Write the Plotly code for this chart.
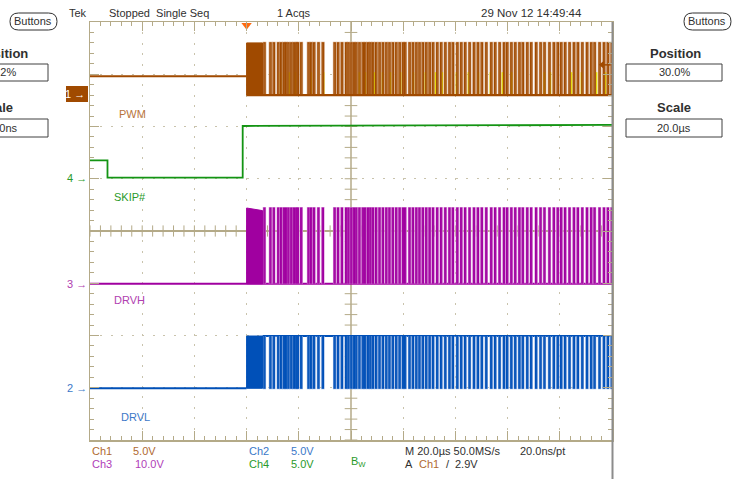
import plotly.graph_objects as go
import numpy as np

# ---------------- data ----------------
time_range = [-60.0, 140.0]          # µs, 20 µs/div, trigger at 30 %
div_range = [-4.0, 4.0]              # vertical divisions

# switching edges after the trigger (µs, rising edge of DRVH / PWM)
pulse_t = [6.6, 8.9, 10.2, 11.9, 13.0, 14.1, 14.9, 15.8, 16.9, 17.9, 18.8, 19.4,
           20.7, 23.5, 24.5, 25.6, 27.3, 29.0, 33.5, 34.8, 36.3, 37.9, 38.8, 39.9,
           40.9, 41.8, 43.0, 44.3, 45.2, 46.3, 47.2, 48.2, 49.4, 50.7, 52.0, 53.3,
           54.5, 55.8, 57.1, 58.4, 59.7, 60.5, 62.2, 63.5, 64.8, 66.0, 67.3, 68.6,
           69.9, 71.2, 72.8, 74.3, 75.9, 77.5, 78.8, 80.5, 82.0, 83.5, 85.2, 86.9,
           88.4, 89.9, 91.6, 93.5, 95.0, 96.7, 98.4, 99.6, 101.2, 102.7, 104.3,
           105.6, 107.3, 108.8, 110.7, 112.4, 113.9, 115.8, 117.5, 119.0, 120.3,
           121.8, 123.5, 125.2, 126.7, 128.4, 130.2, 131.8, 133.1, 135.0, 136.7,
           138.2, 139.7]
# where the PWM trace shows yellow (persistence) streaks (µs)
pwm_yellow_t = [11.9, 15.3, 17.6, 23.6, 28.4, 42.1, 44.4, 47.9, 51.0, 54.0, 57.9,
                62.8, 67.4, 71.3, 73.9, 79.3, 83.9, 87.7, 92.3, 96.9, 100.4, 113.0,
                115.3, 123.4, 127.2, 133.0, 136.4]
pulse_w_pwm = 0.5                    # µs
pulse_w_drv = 0.45                   # µs
burst = [0.0, 6.1]                   # dense switching burst right after trigger (µs)

# channel settings: V/div and ground offset (div)
ch1_scale, ch1_offset = 5.0, 2.60    # PWM
ch2_scale, ch2_offset = 5.0, -3.01   # DRVL
ch3_scale, ch3_offset = 10.0, -1.01  # DRVH
ch4_scale, ch4_offset = 5.0, 1.01    # SKIP#

pwm_tristate_v, pwm_low_v, pwm_high_v = 1.8, 0.0, 5.0
pwm_yellow_top_v = 2.2
drvh_low_v, drvh_high_v = 0.0, 14.5
drvl_low_v, drvl_high_v = 0.0, 5.0
skip_t = [-60.0, -53.3, -53.3, -1.5, -1.5, 140.0]
skip_v = [1.7, 1.7, 0.05, 0.05, 5.0, 5.1]
trigger_level_v = 2.9

# ---------------- geometry ----------------
W, H = 739, 479
L, R, T, B = 90, 127, 22, 39
PW, PH = W - L - R, H - T - B

def px(x):
    return (x - L) / PW

def py(y):
    return (H - B - y) / PH

def dv(v, scale, offset):
    return offset + np.asarray(v, dtype=float) / scale

BROWN, BROWN_L = "#a04a00", "#d8b090"
PURPLE, PURPLE_L = "#a000a0", "#dc9adc"
BLUE, BLUE_L = "#0050b8", "#9ab6e4"
GREEN = "#139413"
YELLOW = "#e6dc10"
GRAT = "#b4aa88"
DOT = "#c9c3ac"
FONT = "Liberation Sans"

def pulse_xy(times, width, base, top):
    xs, ys = [], []
    for t in times:
        xs += [t, t, t + width, t + width, None]
        ys += [base, top, top, base, None]
    return xs, ys

def seg_xy(times, shift, y0, y1):
    xs, ys = [], []
    for t in times:
        xs += [t + shift, t + shift, None]
        ys += [y0, y1, None]
    return xs, ys

fig = go.Figure()

# ---------- center cross ticks ----------
hx = np.arange(time_range[0], time_range[1] + 0.01, 4.0)
fig.add_trace(go.Scatter(x=hx, y=np.zeros_like(hx), mode="markers", hoverinfo="skip",
                         marker=dict(symbol="line-ns", size=8, line=dict(color=GRAT, width=1)),
                         showlegend=False))
vy = np.arange(div_range[0], div_range[1] + 0.01, 0.2)
fig.add_trace(go.Scatter(x=np.full_like(vy, 40.0), y=vy, mode="markers", hoverinfo="skip",
                         marker=dict(symbol="line-ew", size=9, line=dict(color=GRAT, width=1)),
                         showlegend=False))

# ---------- Ch1 PWM ----------
lo1, hi1, tri1, ylw1 = dv([pwm_low_v, pwm_high_v, pwm_tristate_v, pwm_yellow_top_v],
                          ch1_scale, ch1_offset)
fig.add_trace(go.Scatter(x=[time_range[0], burst[0]], y=[tri1, tri1], mode="lines",
                         line=dict(color=BROWN, width=2), showlegend=False))
px1, py1 = pulse_xy(pulse_t, pulse_w_pwm, lo1, hi1)
fig.add_trace(go.Scatter(x=px1, y=py1, mode="lines", line=dict(color=BROWN_L, width=2.4),
                         showlegend=False))
yx, yy = seg_xy(pwm_yellow_t, 1.1, lo1, ylw1)
fig.add_trace(go.Scatter(x=yx, y=yy, mode="lines", line=dict(color=YELLOW, width=1.6),
                         showlegend=False))
fig.add_trace(go.Scatter(x=px1, y=py1, mode="lines", line=dict(color=BROWN, width=1.1),
                         showlegend=False))
fig.add_trace(go.Scatter(x=[burst[0], burst[0], burst[1], burst[1], burst[0]],
                         y=[lo1, hi1, hi1, lo1, lo1], mode="lines", fill="toself",
                         fillcolor=BROWN, line=dict(color=BROWN, width=1), showlegend=False))
fig.add_trace(go.Scatter(x=[burst[0], time_range[1]], y=[lo1, lo1], mode="lines",
                         line=dict(color=BROWN, width=2.2), showlegend=False))

# ---------- Ch4 SKIP# ----------
fig.add_trace(go.Scatter(x=skip_t, y=dv(skip_v, ch4_scale, ch4_offset), mode="lines",
                         line=dict(color=GREEN, width=1.8), showlegend=False))

# ---------- Ch3 DRVH ----------
lo3, hi3 = dv([drvh_low_v, drvh_high_v], ch3_scale, ch3_offset)
fig.add_trace(go.Scatter(x=[time_range[0], time_range[1]], y=[lo3, lo3], mode="lines",
                         line=dict(color=PURPLE, width=2), showlegend=False))
px3, py3 = pulse_xy(pulse_t, pulse_w_drv, lo3, hi3)
fig.add_trace(go.Scatter(x=px3, y=py3, mode="lines", line=dict(color=PURPLE_L, width=2.2),
                         showlegend=False))
fig.add_trace(go.Scatter(x=px3, y=py3, mode="lines", line=dict(color=PURPLE, width=1.1),
                         showlegend=False))
fig.add_trace(go.Scatter(x=[burst[0], burst[0], burst[1], burst[1], burst[0]],
                         y=[lo3, hi3, hi3 - 0.05, lo3, lo3], mode="lines", fill="toself",
                         fillcolor=PURPLE, line=dict(color=PURPLE, width=1), showlegend=False))

# ---------- Ch2 DRVL ----------
lo2, hi2 = dv([drvl_low_v, drvl_high_v], ch2_scale, ch2_offset)
fig.add_trace(go.Scatter(x=[time_range[0], burst[0]], y=[lo2, lo2], mode="lines",
                         line=dict(color=BLUE, width=2), showlegend=False))
fig.add_trace(go.Scatter(x=[burst[1], time_range[1]], y=[hi2, hi2], mode="lines",
                         line=dict(color=BLUE, width=2), showlegend=False))
px2, py2 = pulse_xy(pulse_t, pulse_w_drv, hi2, lo2)
fig.add_trace(go.Scatter(x=px2, y=py2, mode="lines", line=dict(color=BLUE_L, width=2.2),
                         showlegend=False))
fig.add_trace(go.Scatter(x=px2, y=py2, mode="lines", line=dict(color=BLUE, width=1.1),
                         showlegend=False))
fig.add_trace(go.Scatter(x=[burst[0], burst[0], burst[1], burst[1], burst[0]],
                         y=[lo2, hi2, hi2, lo2, lo2], mode="lines", fill="toself",
                         fillcolor=BLUE, line=dict(color=BLUE, width=1), showlegend=False))

# ---------- trigger position & level markers ----------
fig.add_trace(go.Scatter(x=[0.0], y=[div_range[1] - 0.06], mode="markers", cliponaxis=False,
                         marker=dict(symbol="triangle-down", size=9, color="#ff6a10"),
                         showlegend=False))
lvl = float(dv(trigger_level_v, ch1_scale, ch1_offset))
fig.add_trace(go.Scatter(x=[136.0, 139.5], y=[lvl, lvl], mode="lines", cliponaxis=False,
                         line=dict(color=BROWN, width=1.5), showlegend=False))
fig.add_trace(go.Scatter(x=[136.3], y=[lvl], mode="markers", cliponaxis=False,
                         marker=dict(symbol="triangle-left", size=7, color=BROWN,
                                     line=dict(width=0)), showlegend=False))

# ---------- layout ----------
ann = []

def text(t, x, y, color="#303030", size=11, anchor="left", bold=False, family=FONT):
    ann.append(dict(text=("<b>%s</b>" % t) if bold else t, x=px(x), y=py(y), xref="paper",
                    yref="paper", showarrow=False, xanchor=anchor, yanchor="middle",
                    font=dict(family=family, size=size, color=color)))

text("Tek", 67, 13)
text("Stopped  Single Seq", 107, 13, size=11)
text("1 Acqs", 275, 13, size=11)
text("29 Nov 12 14:49:44", 479, 13, size=11.5)
text("Buttons", 33, 21, size=11, anchor="center")
text("Buttons", 707, 21, size=11, anchor="center")

# left (clipped) panel
text("Position", 30, 54, size=13, anchor="right", bold=True)
text("30.2%", 0, 72, size=11, anchor="center")
text("Scale", 15, 108, size=13, anchor="right", bold=True)
text("20.0ns", 1, 128, size=11, anchor="center")
# right panel
text("Position", 675, 54, size=13, anchor="center", bold=True)
text("30.0%", 674, 72, size=11, anchor="center")
text("Scale", 674, 108, size=13, anchor="center", bold=True)
text("20.0µs", 674, 128, size=11, anchor="center")

# trace labels
text("PWM", 117, 114, color="#b8743c", size=11)
text("SKIP#", 112, 197, color="#2a9a2a", size=11)
text("DRVH", 112, 300, color="#b040b0", size=11)
text("DRVL", 119, 417, color="#3c78c8", size=11)

# channel markers
text("1 →", 87, 94, color="white", size=11, anchor="right")
text("4 →", 89, 178, color="#2a9a2a", size=11, anchor="right")
text("3 →", 89, 284, color="#b040b0", size=11, anchor="right")
text("2 →", 89, 388, color="#3c78c8", size=11, anchor="right")

# status area
text("Ch1", 90, 451, color="#b06a30")
text("5.0V", 131, 451, color="#b06a30")
text("Ch3", 90, 464, color="#b040b8")
text("10.0V", 133, 464, color="#b040b8")
text("Ch2", 247, 451, color="#3a78c8")
text("5.0V", 289, 451, color="#3a78c8")
text("Ch4", 247, 464, color="#2a9a2a")
text("5.0V", 289, 464, color="#2a9a2a")
text("B<sub>W</sub>", 349, 462, color="#2a9a2a", size=11)
text("M 20.0µs 50.0MS/s", 403, 451)
text("20.0ns/pt", 518, 451)
text("A", 403, 464)
text("Ch1", 417, 464, color="#b06a30")
text("/", 444, 464)
text("2.9V", 453, 464)

def pill(x0, x1, y0, y1):
    r = (y1 - y0) / 2.0
    a, b, c, d = px(x0), px(x1), py(y0), py(y1)
    rx = r / PW
    ym = (c + d) / 2.0
    return ("M %f %f L %f %f Q %f %f %f %f Q %f %f %f %f L %f %f Q %f %f %f %f Q %f %f %f %f Z" % (
        a + rx, c, b - rx, c, b, c, b, ym, b, d, b - rx, d, a + rx, d, a, d, a, ym, a, c, a + rx, c))

shapes = [
    dict(type="line", xref="x", yref="y", x0=40, x1=40, y0=div_range[0], y1=div_range[1],
         line=dict(color=GRAT, width=1.5), layer="below"),
    dict(type="line", xref="paper", yref="paper", x0=px(612.5), x1=px(612.5), y0=py(479), y1=1,
         line=dict(color="#8c8c8c", width=2)),
    dict(type="rect", xref="paper", yref="paper", x0=px(66), x1=px(88), y0=py(102), y1=py(86),
         fillcolor=BROWN, line=dict(width=0), layer="below"),
    dict(type="rect", xref="paper", yref="paper", x0=px(-50), x1=px(48), y0=py(81), y1=py(64),
         line=dict(color="#404040", width=1)),
    dict(type="rect", xref="paper", yref="paper", x0=px(-50), x1=px(48), y0=py(137), y1=py(119),
         line=dict(color="#404040", width=1)),
    dict(type="rect", xref="paper", yref="paper", x0=px(626), x1=px(722), y0=py(81), y1=py(64),
         line=dict(color="#404040", width=1)),
    dict(type="rect", xref="paper", yref="paper", x0=px(626), x1=px(722), y0=py(137), y1=py(119),
         line=dict(color="#404040", width=1)),
    dict(type="path", xref="paper", yref="paper", path=pill(10, 57, 13, 30),
         line=dict(color="#303030", width=1)),
    dict(type="path", xref="paper", yref="paper", path=pill(684, 731, 13, 30),
         line=dict(color="#303030", width=1)),
]

fig.update_layout(
    width=W, height=H, margin=dict(l=L, r=R, t=T, b=B, pad=0),
    paper_bgcolor="white", plot_bgcolor="white",
    annotations=ann, shapes=shapes, showlegend=False, hovermode=False,
    xaxis=dict(range=time_range, dtick=20, tick0=-60, showgrid=True, griddash="2px,8.4px",
               gridcolor=DOT, gridwidth=1, zeroline=False, showline=True, linecolor=GRAT,
               linewidth=1.5, mirror="ticks", ticks="inside", ticklen=9, tickcolor=GRAT,
               showticklabels=False, fixedrange=True,
               minor=dict(ticks="inside", ticklen=4, dtick=4, tickcolor=GRAT, showgrid=False)),
    yaxis=dict(range=div_range, dtick=1, tick0=-4, showgrid=True, griddash="2px,8.45px",
               gridcolor=DOT, gridwidth=1, zeroline=True, zerolinecolor=GRAT, zerolinewidth=1.5,
               showline=True, linecolor=GRAT, linewidth=1.5, mirror="ticks", ticks="inside",
               ticklen=9, tickcolor=GRAT, showticklabels=False, fixedrange=True,
               minor=dict(ticks="inside", ticklen=4, dtick=0.2, tickcolor=GRAT, showgrid=False)),
)

fig.write_html("out.html", config={"displayModeBar": False, "staticPlot": True},
               post_script="document.body.style.margin='0';document.body.style.overflow='hidden';")
